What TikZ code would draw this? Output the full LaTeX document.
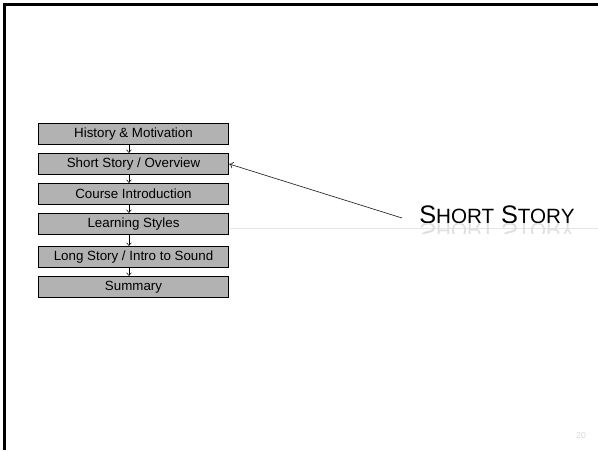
\documentclass[tikz,border=0pt]{standalone}
\usepackage{fontspec}
\setmainfont{Liberation Sans}
\usetikzlibrary{arrows.meta}
\newcommand{\titletext}{{\fontsize{19}{21}\selectfont S}{\fontsize{15.5}{17}\selectfont HORT}\hspace{5pt}{\fontsize{19}{21}\selectfont S}{\fontsize{15.5}{17}\selectfont TORY}}
\begin{document}
\begin{tikzpicture}
  [x=0.75pt,y=-0.75pt,every node/.style={inner sep=0pt}]
  \tikzstyle{topic} = [draw,line width=1.1pt,fill=gray!60,minimum width=142.5pt,minimum height=15.7pt,font=\fontsize{10}{12}\selectfont]
  \tikzstyle{step arrow} = [line width=0.4pt,-{To[length=2.5pt,width=4pt]}]
  \useasboundingbox (0,0) rectangle (598,450);
  % slide frame
  \draw[line width=1.8pt] (4.5,450) -- (4.5,4.5) -- (598,4.5);
  \draw[gray!20,line width=0.8pt] (230,228.3) -- (598,228.3);
  \node[topic] (hist) at (133.5,134) {History \& Motivation};
  \node[topic] (shrt) at (133.5,164) {Short Story / Overview};
  \node[topic] (cour) at (133.5,194) {Course Introduction};
  \node[topic] (lrn)  at (133.5,224) {Learning Styles};
  \node[topic] (long) at (133.5,257) {Long Story / Intro to Sound};
  \node[topic] (summ) at (133.5,287) {Summary};
  \foreach \source /\dest in {hist/shrt,shrt/cour,cour/lrn,lrn/long,long/summ}
   \draw[step arrow] ([xshift=-3.4pt]\source.south) -- ([xshift=-3.4pt]\dest.north);
  % section title
  \node[anchor=base west] (ttl) at (419,223) {\titletext};
  \begin{scope}
  \clip (410,223.5) rectangle (598,233);
  \node[anchor=base west,yscale=-1,text=gray!25] (refl) at (419,223) {\titletext};
  \end{scope}
  \coordinate (from) at (402,218);
  \draw[gray!30!black,line width=0.5pt,-{To[length=3pt,width=5pt]}] (from) -- (shrt.east);
  \node[text=gray!30,font=\fontsize{6.5}{8}\selectfont] (pgno) at (581,436) {20};
\end{tikzpicture}
\end{document}
